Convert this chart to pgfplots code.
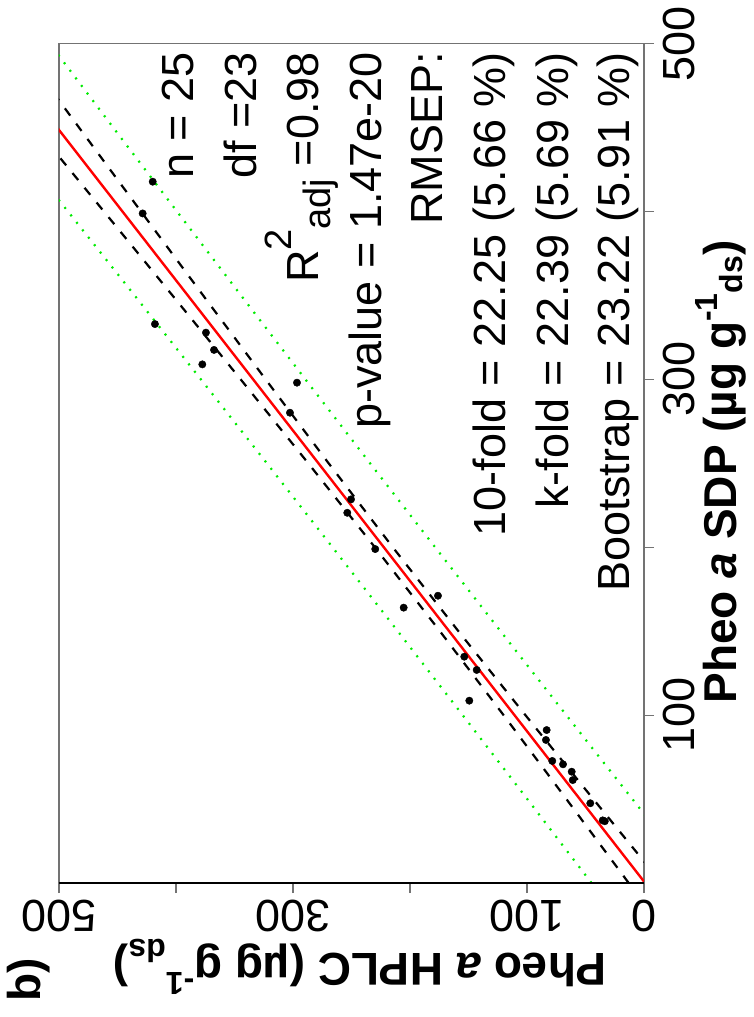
\documentclass[border=0pt]{standalone}
\usepackage{pgfplots}
\pgfplotsset{compat=1.18}
\usepackage{fontspec}
\setmainfont{Liberation Sans}
\definecolor{rgreen}{RGB}{0,235,0}
\definecolor{rred}{RGB}{255,0,0}
\newcommand{\fs}{\fontsize{45}{54}\selectfont}
\newcommand{\fsb}{\fontsize{46}{55}\selectfont\bfseries}
\newcommand{\sm}{\fontsize{32}{38}\selectfont}
\newcommand{\smr}{\fontsize{38}{44}\selectfont}

\begin{document}
\begin{tikzpicture}
\path[use as bounding box] (0pt,0pt) rectangle (753pt,-1017pt);
\begin{axis}[
  at={(59pt,-883pt)}, anchor=south west,
  scale only axis, width=585pt, height=839.5pt,
  xmin=0, xmax=500, ymin=0, ymax=500, x dir=reverse,
  axis line style={black!55, line width=1.2pt},
  xtick={0,100,200,300,400,500}, xticklabels={0,100,,300,,500},
  ytick={100,200,300,400,500}, yticklabels={100,,300,,500},
  xtick pos=left, ytick pos=right, yticklabel pos=right,
  tick align=outside, major tick length=10pt,
  tick style={black!55, line width=1.2pt},
  tick label style={font=\fs, inner sep=0pt},
  xticklabel style={rotate=180, anchor=south},
  yticklabel style={rotate=90, anchor=north},
  xticklabel shift=7pt, yticklabel shift=8.7pt,
  xlabel={Pheo \textit{a} HPLC (µg g\raisebox{0.42em}{\sm -1}\raisebox{-0.3em}{\sm ds})},
  ylabel={Pheo \textit{a} SDP (µg g\raisebox{0.42em}{\sm -1}\raisebox{-0.13em}{\sm ds})},
  every axis x label/.style={at={(axis description cs:0.5145,-0.0834)}, rotate=180, anchor=base, font=\fsb, inner sep=0pt},
  every axis y label/.style={at={(axis description cs:1.158,0.4896)}, rotate=90, anchor=base, font=\fsb, inner sep=0pt},
  clip=true,
]
% prediction bands (HPLC, SDP)
\addplot[rgreen, line width=2.2pt, dash pattern=on 2pt off 7.5pt] coordinates {
(44.85,0) (99.77,50) (154.98,100) (210.47,150) (266.27,200) (322.36,250) (378.76,300) (435.44,350) (492.39,400) (549.59,450) (607.02,500)};
\addplot[rgreen, line width=2.2pt, dash pattern=on 2pt off 7.5pt] coordinates {
(-46.85,0) (9.93,50) (66.42,100) (122.63,150) (178.53,200) (234.14,250) (289.44,300) (344.46,350) (399.21,400) (453.71,450) (507.98,500)};
% confidence bands
\addplot[black, line width=2.2pt, dash pattern=on 9pt off 10pt] coordinates {
(13.06,0) (66.34,50) (120.03,100) (174.46,150) (230.06,200) (286.96,250) (344.76,300) (403.06,350) (461.64,400) (520.37,450) (579.2,500)};
\addplot[black, line width=2.2pt, dash pattern=on 9pt off 10pt] coordinates {
(-15.06,0) (43.36,50) (101.37,100) (158.64,150) (214.74,200) (269.54,250) (323.44,300) (376.84,350) (429.96,400) (482.93,450) (535.8,500)};
% fitted line
\addplot[rred, line width=2.4pt] coordinates {(-1,0) (557.5,500)};
% data
\addplot[only marks, mark=*, mark size=3.7pt, black] coordinates {
(419.9,417.7) (428.5,398.8) (418.0,332.9) (374.4,327.8) (367.5,317.5)
(377.5,308.9) (296.6,298.0) (302.6,280.1) (250.4,228.5) (253.6,220.5)
(229.7,198.9) (176.1,171.1) (205.4,164.0) (153.6,134.8) (143.0,126.9)
(149.3,108.6) (83.2,91.1) (83.8,85.2) (78.4,72.7) (69.2,70.7)
(61.8,66.3) (60.9,61.3) (45.9,47.5) (35.3,37.3) (33.5,36.8)};
\draw[black, line width=1.2pt] (rel axis cs:0,0) -- (rel axis cs:1,0);
\end{axis}
\begin{scope}[every node/.style={rotate=90, anchor=base east, font=\fs, inner sep=0pt}]
\node at (193pt,-52pt) {n = 25};
\node at (256pt,-52pt) {df =23};
\node at (318pt,-52pt) {R\raisebox{0.6em}{\smr 2}\raisebox{-0.27em}{\smr adj} =0.98};
\node at (381pt,-52pt) {p-value = 1.47e-20};
\node at (442pt,-52pt) {RMSEP:};
\node at (505pt,-52pt) {10-fold = 22.25 (5.66 \%)};
\node at (568pt,-52pt) {k-fold = 22.39 (5.69 \%)};
\node at (629pt,-52pt) {Bootstrap = 23.22 (5.91 \%)};
\end{scope}
\node[rotate=90, font=\fsb, inner sep=0pt] at (29pt,-980pt) {b)};
\end{tikzpicture}
\end{document}
